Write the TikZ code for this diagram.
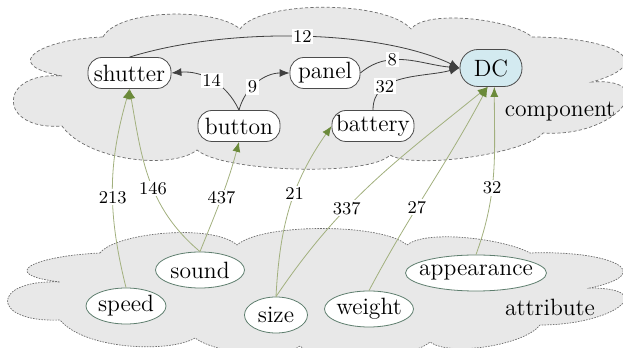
\documentclass[tikz,border=0pt]{standalone}
\usetikzlibrary{shapes.geometric,arrows.meta}
\definecolor{cloudfill}{HTML}{E8E8E8}
\definecolor{cloudline}{HTML}{6E6E6E}
\definecolor{dcfill}{HTML}{D3EAF0}
\definecolor{tipgreen}{HTML}{6B8A3A}
\definecolor{linegreen}{HTML}{A2B07E}
\definecolor{ellline}{HTML}{5E7E6E}
\newcommand{\tx}[1]{\makebox[0pt]{#1}}
\begin{document}
\begin{tikzpicture}[x=0.5pt,y=0.5pt,
  topregion/.style={draw=cloudline, fill=cloudfill, dash pattern=on 1.6pt off 1.1pt, line width=0.35pt},
  botregion/.style={draw=cloudline, fill=cloudfill, dash pattern=on 0.8pt off 0.6pt, line width=0.35pt},
  comp/.style={draw=black!70, fill=white, rounded corners=7pt, minimum height=15.5pt,
    inner sep=0pt, font=\fontsize{11.8}{13}\selectfont, line width=0.4pt},
  attr/.style={ellipse, draw=ellline, fill=white, minimum height=18pt, inner sep=0pt,
    font=\fontsize{11.8}{13}\selectfont, line width=0.4pt},
  tag/.style={font=\fontsize{11.8}{13}\selectfont, inner sep=0pt},
  wlabel/.style={fill=white, inner sep=0.8pt, font=\fontsize{9}{10}\selectfont},
  link/.style={draw=black!75, line width=0.4pt, -{Latex[length=5pt,width=4pt]}},
  feed/.style={draw=linegreen, line width=0.4pt, -{Latex[length=5pt,width=4pt,color=tipgreen]}},
]
\useasboundingbox (0,0) rectangle (623,348);

% component region
\path[topregion] (103,311)
  .. controls +(15,28) and +(-25,22) .. (240,319)
  .. controls +(20,29) and +(-25,29) .. (411,319)
  .. controls +(15,20) and +(-20,18) .. (532,311)
  .. controls +(80,0) and +(70,20) .. (592,266)
  .. controls +(70,5) and +(75,-5) .. (543,215)
  .. controls +(-15,-20) and +(25,-15) .. (390,193)
  .. controls +(-20,-22) and +(25,-22) .. (197,198)
  .. controls +(-25,-20) and +(25,-35) .. (62,222)
  .. controls +(-65,-5) and +(-65,5) .. (62,272)
  .. controls +(-65,12) and +(-60,-2) .. (103,311) -- cycle;

% attribute region
\path[botregion] (100,95)
  .. controls +(15,20) and +(-25,22) .. (237,103)
  .. controls +(25,22) and +(-25,22) .. (407,103)
  .. controls +(20,16) and +(-25,14) .. (530,95)
  .. controls +(80,3) and +(70,15) .. (590,60)
  .. controls +(70,0) and +(75,0) .. (540,23)
  .. controls +(-15,-20) and +(20,-15) .. (430,6)
  .. controls +(-20,-18) and +(20,-18) .. (300,2)
  .. controls +(-20,-15) and +(20,-15) .. (195,10)
  .. controls +(-25,-15) and +(25,-30) .. (60,28)
  .. controls +(-70,-3) and +(-70,3) .. (60,66)
  .. controls +(-65,8) and +(-65,-3) .. (100,95) -- cycle;

% components
\node[comp, minimum width=41.5pt] (shutter) at (129.5,275) {\tx{shutter}};
\node[comp, minimum width=41pt] (button) at (239,222) {\tx{button}};
\node[comp, minimum width=35pt] (panel) at (325,275) {\tx{panel}};
\node[comp, minimum width=31pt, minimum height=18.5pt, rounded corners=9pt, fill=dcfill] (DC) at (491,280) {\tx{DC}};
\node[comp, minimum width=41pt] (battery) at (373,222) {\tx{battery}};
\node[tag] (comptag) at (560,236) {component};

% attributes
\node[attr, minimum width=40pt] (speed) at (126,42) {\tx{speed}};
\node[attr, minimum width=44.5pt] (sound) at (200,78) {\tx{sound}};
\node[attr, minimum width=31.5pt] (size) at (276,33) {\tx{size}};
\node[attr, minimum width=44.5pt] (weight) at (369,39) {\tx{weight}};
\node[attr, minimum width=70.5pt] (appearance) at (476,75) {\tx{appearance}};
\node[tag] (attrtag) at (550,41) {attribute};

% links between components
\draw[link] (shutter.north) .. controls (230,322) and (380,318) .. node[wlabel,pos=0.5]{12} (DC.west);
\draw[link] (button.north) to[out=115,in=5] node[wlabel,pos=0.5]{14} (shutter.east);
\draw[link] (button.north) to[out=75,in=180] node[wlabel,pos=0.4]{9} (panel.west);
\draw[link] (panel.east) to[out=40,in=175] node[wlabel,pos=0.35]{8} (DC.west);
\draw[link] (battery.north) to[out=90,in=195] node[wlabel,pos=0.3]{32} (DC.west);

% attribute feeds
\draw[feed] (speed.north) to[bend left=15] node[wlabel,pos=0.45]{213} (shutter.south);
\draw[feed] (sound.north) to[out=140,in=-80] node[wlabel,pos=0.44]{146} (shutter.south);
\draw[feed] (sound.north) to[out=68,in=-105] node[wlabel,pos=0.5]{437} (button.south);
\draw[feed] (size.north) to[out=87,in=-125] node[wlabel,pos=0.58]{21} (battery.west);
\draw[feed] (size.north) to[out=56,in=-141] node[wlabel,pos=0.37]{337} (DC.-100);
\draw[feed] (weight.north) to[out=62,in=-118] node[wlabel,pos=0.4]{27} (DC.-100);
\draw[feed] (appearance.north) to[out=70,in=-90] node[wlabel,pos=0.4]{32} (DC.-80);
\end{tikzpicture}
\end{document}
